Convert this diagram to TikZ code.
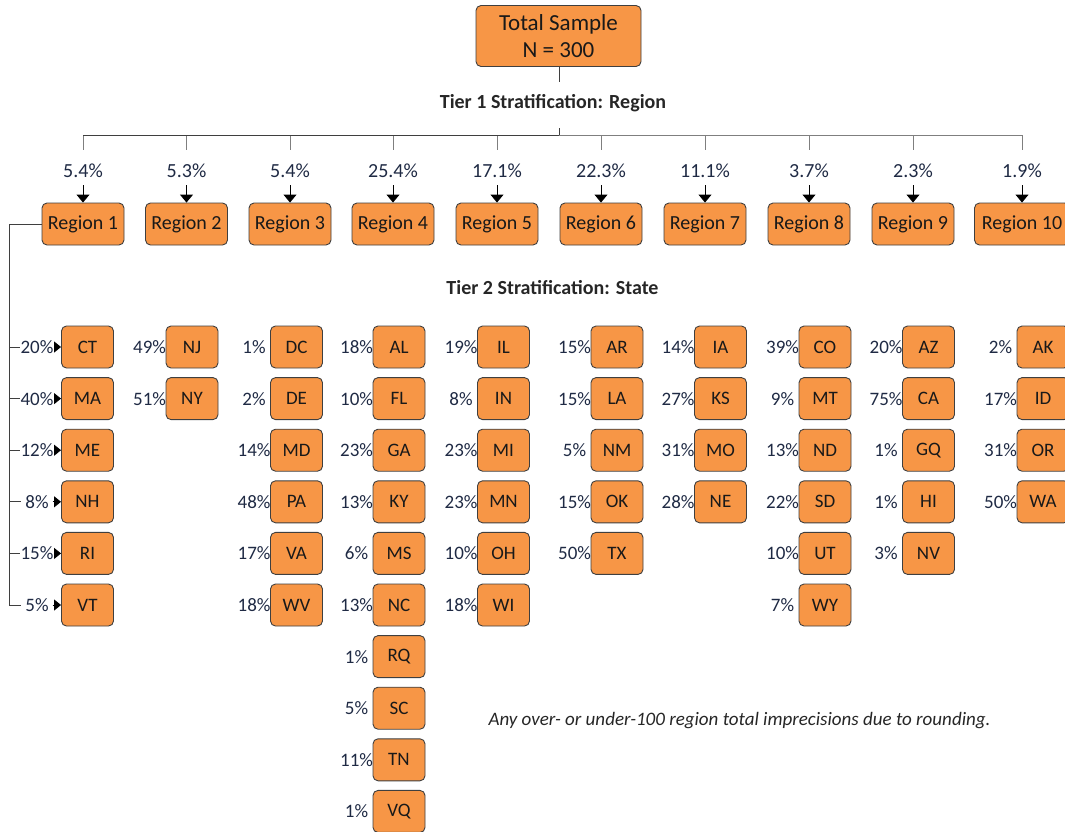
\documentclass[tikz,border=0pt]{standalone}
\usepackage{fontspec}
\setmainfont{Carlito}
\usetikzlibrary{arrows.meta}
\definecolor{orng}{HTML}{F79646}
\definecolor{bline}{HTML}{3F3F3F}
\definecolor{pcol}{HTML}{1F2A44}
\definecolor{lgray}{HTML}{7F7F7F}
\begin{document}
\begin{tikzpicture}[x=1pt,y=-1pt,
 box/.style={draw=bline, fill=orng, rounded corners=5pt, line width=0.9pt, inner sep=0pt, text=black!90},
 regbox/.style={box, minimum height=42pt, font=\fontsize{20}{24}\selectfont},
 stbox/.style={box, minimum width=52pt, minimum height=42pt, font=\fontsize{19}{22}\selectfont},
 pct/.style={font=\fontsize{20}{24}\selectfont, text=pcol, inner sep=1pt},
 spct/.style={font=\fontsize{19}{22}\selectfont, text=pcol, inner sep=0.5pt},
 tier/.style={font=\bfseries\fontsize{20}{24}\selectfont, text=black!85},
 conn/.style={draw=bline, line width=0.8pt},
 lconn/.style={draw=lgray, line width=0.8pt},
 arr/.style={draw=black, line width=0.9pt, -{Triangle[width=13pt,length=8pt]}},
 sarr/.style={draw=black, line width=0.9pt, -{Triangle[width=11pt,length=7pt]}},
]
\clip (0,0) rectangle (1065,831);
% top
\node[box, minimum width=165pt, minimum height=61pt, align=center, font=\fontsize{23}{27}\selectfont] (top) at (558.5,36) {Total Sample\\N = 300};
\node[tier] (t1) at (553,103) {Tier 1 Stratification: Region};
\node[tier] (t2) at (552.5,288) {Tier 2 Stratification: State};
\coordinate (s1) at (559,82);
\coordinate (s2) at (559,128);
\coordinate (bm) at (559,135);
\draw[conn] (top.south -| s1) -- (s1);
\draw[conn] (s2) -- (bm);
% regions
\foreach \i/\x/\w/\p in {1/83/82/5.4,2/186.5/82/5.3,3/290/82/5.4,4/393/82/25.4,5/497/82/17.1,6/601/82/22.3,7/705/82/11.1,8/809/82/3.7,9/913/82/2.3,10/1022/95/1.9}{
 \node[regbox, minimum width=\w pt] (r\i) at (\x,224) {Region \i};
 \node[pct] (p\i) at (\x,171) {\p\%};
 \coordinate (b\i) at (\x,135);
 \coordinate (d\i) at (\x,150);
 \draw[lconn] (b\i) -- (d\i);
 \draw[arr, shorten <=6pt] (p\i.south) -- (r\i.north);
}
\draw[lconn] (b1) -- (b10);
\draw[conn] (b1) -- (bm);
% region 1 states
\coordinate (tx) at (9,224);
\foreach \s/\q [count=\k] in {CT/20,MA/40,ME/12,NH/8,RI/15,VT/5}{
 \pgfmathsetmacro\yy{347+51.6*(\k-1)}
 \node[stbox] (s1-\k) at (87.5,\yy) {\s};
 \node[spct, minimum width=31pt] (l1-\k) at (37,\yy) {\q\%};
 \draw[sarr] (l1-\k.east) -- (s1-\k.west);
}
\foreach \k in {1,...,5}{
 \draw[conn] (tx |- l1-\k.west) -- (l1-\k.west);
}
\draw[conn] (r1.west) -- (tx) -- (tx |- l1-6.west) -- (l1-6.west);
% other states
\foreach \c/\x/\lst in {
 2/192/{NJ/49,NY/51},
 3/296.5/{DC/1,DE/2,MD/14,PA/48,VA/17,WV/18},
 4/399/{AL/18,FL/10,GA/23,KY/13,MS/6,NC/13,RQ/1,SC/5,TN/11,VQ/1},
 5/503.5/{IL/19,IN/8,MI/23,MN/23,OH/10,WI/18},
 6/617/{AR/15,LA/15,NM/5,OK/15,TX/50},
 7/720.5/{IA/14,KS/27,MO/31,NE/28},
 8/825/{CO/39,MT/9,ND/13,SD/22,UT/10,WY/7},
 9/928.5/{AZ/20,CA/75,GQ/1,HI/1,NV/3},
 10/1043/{AK/2,ID/17,OR/31,WA/50}}{
 \foreach \s/\q [count=\k] in \lst {
  \pgfmathsetmacro\yy{347+51.6*(\k-1)}
  \node[stbox] (s\c-\k) at (\x,\yy) {\s};
  \node[spct] (l\c-\k) at ([xshift=-16pt]s\c-\k.west) {\q\%};
 }
}
\node[font=\itshape\fontsize{19}{23}\selectfont, text=black!85] (note) at (739.5,721) {Any over- or under-100 region total imprecisions due to rounding.};
\end{tikzpicture}
\end{document}
